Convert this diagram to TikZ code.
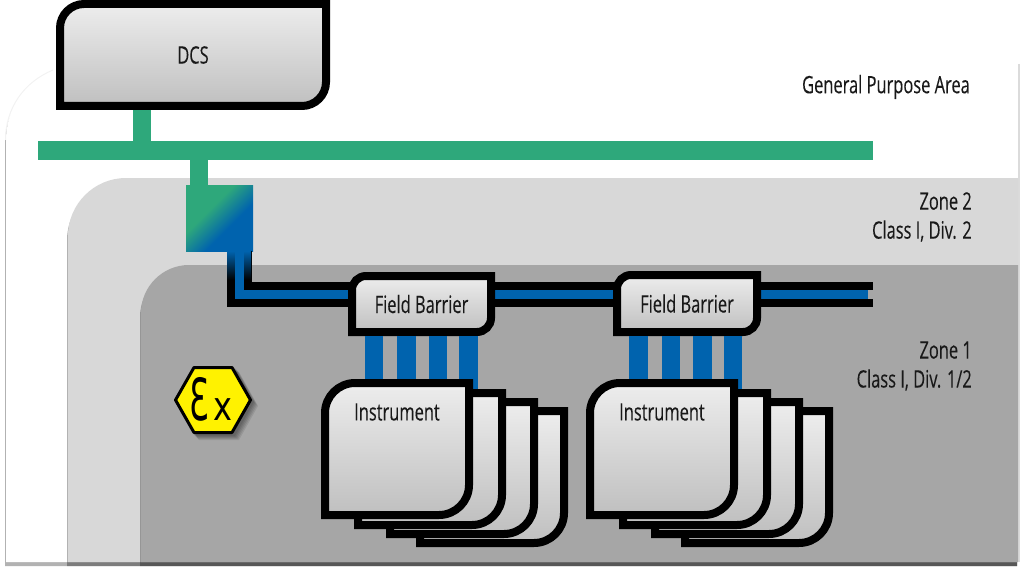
\documentclass[tikz,border=0pt]{standalone}
\usepackage{fontspec}
\setmainfont[FakeStretch=0.685,FakeBold=0.15]{Open Sans}
\newfontfamily\exfont{DejaVu Sans}
\usetikzlibrary{shadows,calc}
\definecolor{busgreen}{HTML}{2EA87B}
\definecolor{pipeblue}{HTML}{0063AE}
\definecolor{zonetwo}{HTML}{D8D8D8}
\definecolor{zoneone}{HTML}{A6A6A6}
\pgfdeclarehorizontalshading{convertershade}{100bp}{color(0bp)=(busgreen); color(40bp)=(busgreen); color(60bp)=(pipeblue); color(100bp)=(pipeblue)}
\tikzset{
  zonefill/.style={drop shadow={shadow xshift=-1pt, shadow yshift=-4pt, opacity=.3, fill=black}},
  softline/.style={draw=black, line width=8pt, top color=black!7, bottom color=black!25},
  boxtext/.style={inner sep=0pt, outer sep=0pt, font=\fontsize{24}{26}\selectfont, text=black!90},
  zonetext/.style={anchor=east, align=right, inner sep=0pt, font=\fontsize{24}{29}\selectfont, text=black!90},
  greenline/.style={draw=busgreen, line width=18.5pt},
  bluestub/.style={draw=pipeblue, line width=18.5pt},
}
% box with two big corners, top left and bottom right
\newcommand{\softbox}[6]{
  \begin{scope}[shift={(#2)}]
    \path[softline] (-#3,-#4+#5) .. controls (-#3,-#4+.45*#5) and (-#3+.45*#5,-#4) .. (-#3+#5,-#4) -- (#3,-#4) -- (#3,#4-#5)
      .. controls (#3,#4-.45*#5) and (#3-.45*#5,#4) .. (#3-#5,#4) -- (-#3,#4) -- cycle;
    \node[boxtext, minimum width=2*#3pt+8pt, minimum height=2*#4pt+8pt] (#1) at (0,0) {#6};
  \end{scope}
}
% area with one big corner, running to the right and bottom edges
\newcommand{\zonearea}[4]{
  \path[zonefill, fill=#4] (1018,562) -- (#1,562) -- (#1,#2+#3) .. controls (#1,#2+.45*#3) and (#1+.45*#3,#2) .. (#1+#3,#2) -- (1018,#2) -- cycle;
}
\begin{document}
\begin{tikzpicture}[x=1pt, y=-1pt]
  \useasboundingbox (0,0) rectangle (1024,572);
  % areas
  \zonearea{6}{68}{72}{white}
  \draw[black!5, line width=1pt] (5.5,140) .. controls (5.5,108) and (24,82) .. (53,70);
  \draw[black!14, line width=1.5pt] (1019,64) -- (1019,562);
  \zonearea{68}{178}{58}{zonetwo}
  \zonearea{141}{265}{48}{zoneone}

  \node[zonetext] (general) at (970,87) {General Purpose Area};
  \node[zonetext] (zone2) at (972,217) {Zone 2\\Class I, Div. 2};
  \node[zonetext] (zone1) at (972,366) {Zone 1\\Class I, Div. 1/2};

  % bus and converter
  \node[fill=busgreen, inner sep=0pt, minimum width=835pt, minimum height=18.5pt] (bus) at (455.5,150.75) {};
  \node[shading=convertershade, shading angle=-45, inner sep=0pt, outer sep=0pt, minimum width=67pt, minimum height=66pt] (conv) at (219.5,218) {};
  \coordinate (pipeend) at (872.5,294.5);
  \coordinate (pipetip) at (867.5,294.5);
  \draw[greenline] ([xshift=-20.5pt]conv.north |- bus.south) -- ([xshift=-20.5pt]conv.north);
  \draw[draw=black, line width=25pt] ($(conv.south east)+(-14,0)$) |- (pipeend);
  \fill[zoneone] (867,290) rectangle (873,299);
  \shade[top color=pipeblue, bottom color=black] (227,251) rectangle (251,280);
  \draw[draw=pipeblue, line width=9pt] ($(conv.south east)+(-14,0)$) |- (pipetip);

  % barriers
  \softbox{barrier1}{421.5,304}{69.5}{28}{14}{\raisebox{-2pt}{Field Barrier}}
  \softbox{barrier2}{687,303.5}{70}{28.5}{14}{\raisebox{-2pt}{Field Barrier}}

  % stubs, hidden under the stacks
  \coordinate (inst1pos) at (397,449);
  \coordinate (inst2pos) at (662,449);
  \foreach \dx in {-47.5,-15,16.5,47}{
    \draw[bluestub] ([xshift=\dx pt]barrier1.south) -- ([xshift=\dx pt]barrier1.south |- inst1pos);
    \draw[bluestub] ([xshift=\dx pt-1pt]barrier2.south) -- ([xshift=\dx pt-1pt]barrier2.south |- inst2pos);
  }

  % instrument stacks
  \foreach \n/\cx in {1/397,2/662}{
    \softbox{back\n c}{\cx+95,477}{72}{66}{30}{}
    \softbox{back\n b}{\cx+65,468}{72}{66}{30}{}
    \softbox{back\n a}{\cx+33,459}{72}{66}{30}{}
    \softbox{inst\n}{\cx,449}{72}{66}{30}{}
    \node[boxtext] (inst\n text) at (\cx,412) {Instrument};
  }

  \softbox{dcs}{193,55}{133}{51}{24}{\raisebox{-3pt}{DCS}}
  \draw[greenline] ([xshift=-51pt]dcs.south) -- ([xshift=-51pt]dcs.south |- bus.north);

  % ex sign
  \foreach \s in {2,3,4,5,6}
    \fill[black, opacity=.09] (193+\s,366+\s) -- (233+\s,366+\s) -- (252+\s,400+\s) -- (233+\s,434+\s) -- (193+\s,434+\s) -- (174+\s,400+\s) -- cycle;
  \draw[fill=yellow, line width=3pt, line join=round] (194,367.5) -- (232,367.5) -- (250.5,400) -- (232,432.5) -- (194,432.5) -- (175.5,400) -- cycle;
  \node[inner sep=0pt, anchor=base west, font=\exfont, text=black] (ex) at (189,420) {\fontsize{58}{58}\selectfont\scalebox{.55}[1]{Ɛ}\fontsize{40}{40}\selectfont\kern5pt\scalebox{.8}[1]{x}};
\end{tikzpicture}
\end{document}
